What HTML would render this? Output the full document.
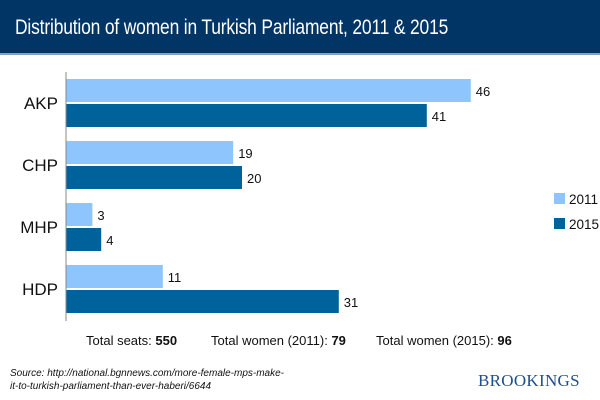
<!DOCTYPE html>
<html><head><meta charset="utf-8"><style>
body{margin:0;width:600px;height:400px;background:#fff;font-family:"Liberation Sans",sans-serif;overflow:hidden;position:relative}
.hdr{position:absolute;left:0;top:0;width:600px;height:53px;background:#003566;border-bottom:2px solid #7fa3c8}
.hdr h1{margin:0;position:absolute;left:15px;top:16px;font-weight:normal;font-size:21px;color:#fff;letter-spacing:-0.2px;transform:scaleX(0.83);transform-origin:0 0;white-space:nowrap}
.tot{position:absolute;top:333px;font-size:13px;color:#111}
.src{position:absolute;left:10px;top:367px;font-size:10px;font-style:italic;color:#111;line-height:13px;white-space:nowrap}
.brk{position:absolute;left:478px;top:371px;font-family:"Liberation Serif",serif;font-size:17px;color:#1f4e8c;letter-spacing:0.3px}
</style></head><body>
<div class="hdr"><h1>Distribution of women in Turkish Parliament, 2011 &amp; 2015</h1></div>
<svg id="c" width="600" height="400" style="position:absolute;left:0;top:0"></svg>
<div class="tot" style="left:86px">Total seats: <b>550</b></div>
<div class="tot" style="left:211px">Total women (2011): <b>79</b></div>
<div class="tot" style="left:376px">Total women (2015): <b>96</b></div>
<div class="src">Source: http://national.bgnnews.com/more-female-mps-make-<br>it-to-turkish-parliament-than-ever-haberi/6644</div>
<div class="brk">BROOKINGS</div>
<script>
const categories=["AKP","CHP","MHP","HDP"];
const values2011=[46,19,3,11];
const values2015=[41,20,4,31];
const seriesNames=["2011","2015"];
const colors=["#8ec5fc","#00629b"];
const svg=document.getElementById('c');
const NS="http://www.w3.org/2000/svg";
const x0=66,scale=8.8;
const xs=v=>x0+v*scale;
const ys=i=>79+i*62;
function mk(t,a){const e=document.createElementNS(NS,t);for(const k in a)e.setAttribute(k,a[k]);svg.appendChild(e);return e;}
categories.forEach((c,i)=>{
  const y=ys(i);
  [values2011[i],values2015[i]].forEach((v,s)=>{
    const r=mk('rect',{x:x0,y:y+s*25,width:xs(v)-x0,height:23,fill:colors[s]});
    
    
    const t=mk('text',{x:xs(v)+5,y:y+s*25+17,'font-size':13,fill:'#111'});
    t.textContent=v;
    
    
  });
  const l=mk('text',{x:58,y:y+30,'font-size':17,fill:'#111','text-anchor':'end'});
  l.textContent=c;
  
  
});
const ax=mk('line',{x1:x0,y1:72,x2:x0,y2:321,stroke:'#888','stroke-width':1});


seriesNames.forEach((n,s)=>{
  const r=mk('rect',{x:554,y:193+s*25,width:11,height:11,fill:colors[s]});
  
  
  const t=mk('text',{x:569,y:204+s*25,'font-size':13.5,fill:'#111'});
  t.textContent=n;
  
  
});
</script>
</body></html>
